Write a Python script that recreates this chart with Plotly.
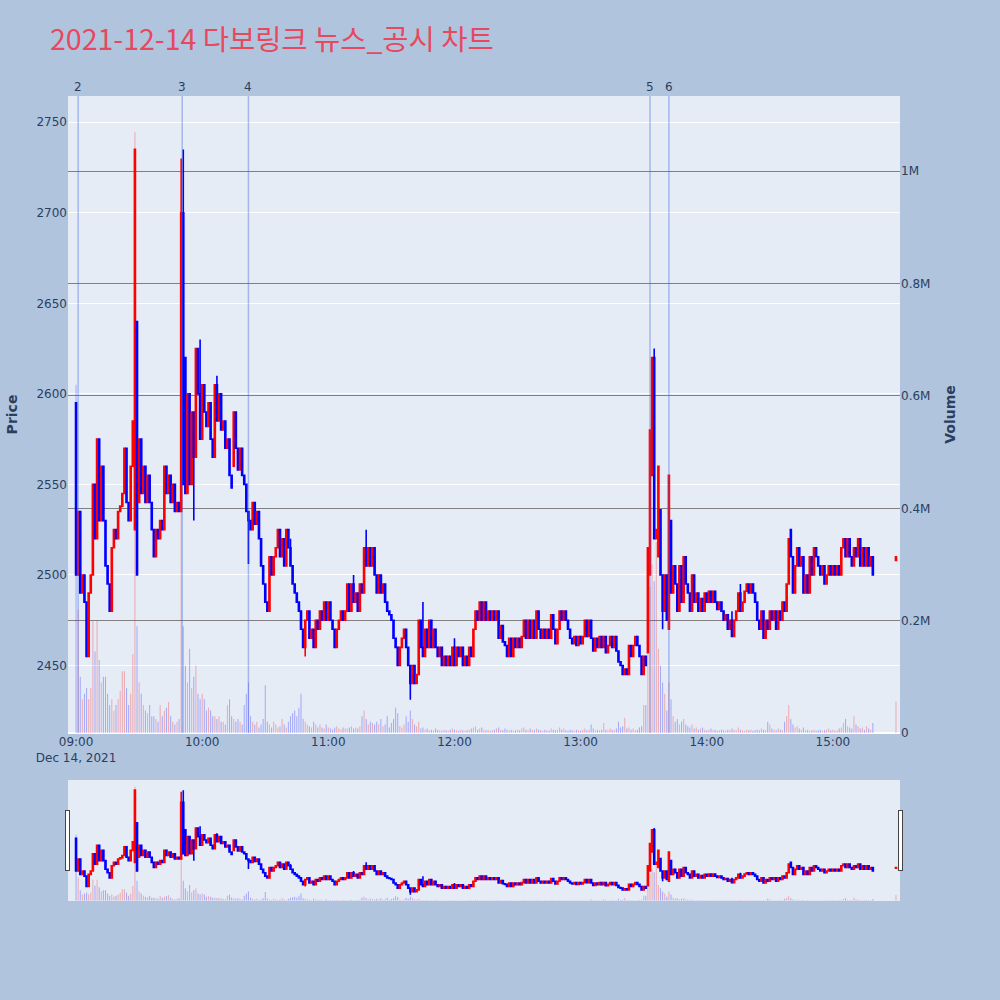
import pandas as pd
import plotly.graph_objects as go

# 1분봉 종가 (09:00 ~ 15:19, 마지막은 15:30 종가)
closes = [
    2500, 2535, 2490, 2500, 2485, 2455, 2490, 2500, 2550, 2520,
    2575, 2530, 2560, 2530, 2505, 2495, 2480, 2515, 2525, 2520,
    2535, 2538, 2545, 2570, 2540, 2530, 2560, 2585, 2735, 2500,
    2575, 2545, 2560, 2540, 2555, 2540, 2525, 2510, 2525, 2520,
    2530, 2525, 2560, 2545, 2555, 2540, 2550, 2535, 2540, 2535,
    2700, 2550, 2545, 2600, 2550, 2590, 2565, 2625, 2600, 2575,
    2605, 2590, 2582, 2595, 2575, 2565, 2605, 2585, 2600, 2580,
    2585, 2570, 2575, 2555, 2548, 2590, 2570, 2558, 2570, 2555,
    2550, 2535, 2530, 2525, 2540, 2528, 2535, 2520, 2505, 2495,
    2485, 2480, 2510, 2500, 2510, 2515, 2525, 2510, 2520, 2505,
    2525, 2515, 2505, 2495, 2490, 2485, 2480, 2470, 2460, 2475,
    2480, 2465, 2470, 2460, 2475, 2470, 2480, 2475, 2485, 2475,
    2485, 2475, 2470, 2460, 2470, 2475, 2480, 2475, 2480, 2495,
    2480, 2495, 2485, 2490, 2480, 2495, 2490, 2515, 2505, 2515,
    2505, 2515, 2500, 2490, 2500, 2490, 2495, 2485, 2480, 2478,
    2475, 2465, 2460, 2450, 2460, 2465, 2470, 2460, 2450, 2440,
    2450, 2440, 2445, 2475, 2460, 2455, 2470, 2460, 2475, 2460,
    2470, 2460, 2455, 2460, 2450, 2455, 2450, 2455, 2450, 2460,
    2450, 2460, 2455, 2460, 2450, 2455, 2450, 2460, 2455, 2470,
    2480, 2475, 2485, 2475, 2485, 2475, 2480, 2475, 2480, 2475,
    2480, 2465, 2472, 2463, 2461, 2455, 2465, 2455, 2465, 2460,
    2465, 2460, 2466, 2475, 2465, 2475, 2465, 2475, 2465, 2480,
    2470, 2465, 2470, 2465, 2470, 2465, 2478, 2470, 2462, 2470,
    2480, 2475, 2480, 2475, 2470, 2465, 2462, 2466, 2461, 2466,
    2462, 2466, 2475, 2466, 2475, 2465, 2458, 2465, 2460, 2466,
    2460, 2466, 2457, 2461, 2466, 2460, 2466, 2458, 2452, 2450,
    2445, 2448, 2445, 2461, 2455, 2461, 2466, 2461, 2455, 2445,
    2455, 2450, 2515, 2580, 2620, 2520, 2525, 2560, 2500, 2480,
    2500, 2475, 2555, 2490, 2505, 2495, 2480, 2505, 2485, 2510,
    2495, 2490, 2480, 2500, 2485, 2490, 2480, 2487, 2480, 2490,
    2485, 2491, 2485, 2491, 2485, 2481, 2485, 2480, 2475, 2478,
    2470, 2475, 2466, 2475, 2480, 2490, 2480, 2485, 2491, 2495,
    2490, 2495, 2490, 2485, 2475, 2470, 2480, 2465, 2475, 2470,
    2480, 2475, 2480, 2470, 2480, 2475, 2485, 2480, 2495, 2520,
    2510, 2490, 2505, 2515, 2505, 2510, 2490, 2500, 2490, 2510,
    2500, 2515, 2510, 2505, 2500, 2505, 2495, 2500, 2505, 2500,
    2505, 2500, 2505, 2500, 2515, 2520, 2510, 2520, 2510, 2505,
    2515, 2510, 2520, 2505, 2515, 2505, 2515, 2505, 2510, 2500,
    2510,
]

first_open = 2595
# 갭이 있는 봉의 시가
open_gaps = {28: 2525, 29: 2640, 30: 2540, 50: 2535, 51: 2700, 52: 2620,
             75: 2560, 272: 2457, 273: 2500, 274: 2555, 275: 2620,
             277: 2510, 278: 2536, 282: 2470, 283: 2530, 340: 2525, 380: 2508}
# 꼬리
high_wicks = {50: 2730, 51: 2735, 59: 2630, 67: 2610, 102: 2520, 132: 2500,
              138: 2525, 165: 2485, 180: 2465, 275: 2625, 312: 2480, 316: 2495}
low_wicks = {56: 2530, 82: 2506, 109: 2455, 159: 2431, 279: 2470}

# 거래량 (천주)
volumes_k = [
    620, 220, 100, 60, 70, 80, 60, 80, 200, 145,
    200, 130, 90, 100, 100, 70, 50, 60, 40, 50,
    60, 75, 110, 110, 80, 50, 70, 140, 1070, 190,
    90, 70, 50, 40, 35, 50, 30, 30, 25, 20,
    50, 30, 40, 45, 55, 30, 20, 15, 20, 25,
    410, 190, 120, 90, 150, 80, 100, 120, 70, 60,
    70, 60, 40, 45, 40, 30, 30, 25, 30, 20,
    20, 15, 50, 60, 30, 25, 20, 25, 20, 15,
    50, 70, 90, 30, 20, 15, 20, 10, 15, 25,
    85, 20, 15, 10, 20, 15, 10, 12, 25, 15,
    10, 20, 30, 35, 40, 30, 45, 70, 25, 20,
    15, 12, 10, 20, 15, 10, 15, 10, 8, 15,
    10, 8, 6, 10, 12, 8, 6, 10, 8, 8,
    10, 12, 8, 10, 8, 12, 30, 40, 25, 15,
    20, 18, 15, 20, 15, 25, 12, 15, 30, 10,
    18, 25, 45, 35, 12, 10, 15, 30, 20, 40,
    25, 15, 12, 20, 8, 10, 6, 8, 5, 6,
    5, 8, 6, 5, 4, 6, 5, 4, 6, 8,
    6, 5, 4, 6, 5, 4, 5, 6, 8, 10,
    12, 6, 8, 10, 6, 5, 6, 4, 5, 6,
    8, 10, 6, 5, 8, 6, 5, 6, 4, 5,
    6, 5, 8, 10, 6, 5, 8, 6, 5, 8,
    6, 5, 4, 6, 5, 4, 8, 6, 5, 6,
    10, 6, 8, 5, 4, 6, 5, 4, 6, 5,
    4, 6, 8, 5, 6, 15, 8, 5, 6, 5,
    6, 18, 6, 5, 8, 6, 5, 8, 20, 10,
    12, 27, 8, 10, 6, 8, 5, 6, 10, 12,
    50, 50, 140, 260, 300, 270, 340, 150, 120, 90,
    70, 40, 90, 60, 30, 20, 25, 15, 20, 25,
    15, 12, 10, 15, 8, 10, 6, 8, 10, 6,
    5, 6, 8, 5, 6, 4, 5, 6, 5, 4,
    6, 5, 8, 6, 5, 10, 6, 5, 4, 6,
    5, 6, 4, 5, 6, 5, 8, 6, 5, 20,
    15, 8, 6, 5, 8, 6, 5, 20, 30, 50,
    25, 15, 10, 12, 8, 6, 10, 5, 6, 4,
    5, 6, 4, 5, 6, 4, 5, 6, 8, 5,
    6, 4, 5, 8, 10, 18, 25, 12, 10, 8,
    30, 15, 12, 8, 10, 6, 12, 8, 6, 18,
    56,
]

# 뉴스/공시 시각
news_labels = ["2", "3", "4", "5", "6"]
news_times = ["2021-12-14 09:01", "2021-12-14 09:50:30", "2021-12-14 10:22",
              "2021-12-14 13:33", "2021-12-14 13:42"]

times = list(pd.date_range("2021-12-14 09:00", periods=380, freq="min"))
times.append(pd.Timestamp("2021-12-14 15:30"))

opens = [first_open] + closes[:-1]
for i, v in open_gaps.items():
    opens[i] = v
highs = [max(o, c) for o, c in zip(opens, closes)]
lows = [min(o, c) for o, c in zip(opens, closes)]
for i, v in high_wicks.items():
    highs[i] = v
for i, v in low_wicks.items():
    lows[i] = v
volumes = [v * 1000 for v in volumes_k]
vol_colors = ["rgba(255,0,0,0.28)" if c >= o else "rgba(0,0,255,0.28)"
              for o, c in zip(opens, closes)]

fig = go.Figure()
fig.add_trace(go.Candlestick(
    x=times, open=opens, high=highs, low=lows, close=closes,
    increasing=dict(line=dict(color="red", width=1.6), fillcolor="red"),
    decreasing=dict(line=dict(color="blue", width=1.6), fillcolor="blue"),
    name="가격", yaxis="y"))
fig.add_trace(go.Bar(
    x=times, y=volumes, marker=dict(color=vol_colors, line=dict(width=0)),
    width=30000, name="거래량", yaxis="y2"))

for lab, t in zip(news_labels, news_times):
    fig.add_shape(type="line", xref="x", yref="paper", x0=t, x1=t, y0=0, y1=1,
                  line=dict(color="rgba(65,105,225,0.4)", width=1.5))
    fig.add_annotation(x=t, y=1, xref="x", yref="paper", text=lab,
                       showarrow=False, yanchor="bottom",
                       font=dict(size=12, color="#2a3f5f"))

fig.update_layout(
    width=1000, height=1000,
    paper_bgcolor="lightsteelblue",
    plot_bgcolor="#e5ecf6",
    title=dict(text="2021-12-14 다보링크 뉴스_공시 차트", x=0.05, xanchor="left",
               y=0.96, yanchor="middle",
               font=dict(family="Noto Sans CJK KR", size=28.5, color="#e8485e")),
    font=dict(family="DejaVu Sans", size=12, color="#2a3f5f"),
    margin=dict(l=68, r=100, t=96, b=100),
    showlegend=False,
    xaxis=dict(type="date", showgrid=False,
               range=["2021-12-14 08:56:10", "2021-12-14 15:31:55"],
               rangeslider=dict(visible=True, thickness=0.15)),
    yaxis=dict(title=dict(text="<b>Price</b>", font=dict(size=14)),
               range=[2412.7, 2764.5], gridcolor="white"),
    yaxis2=dict(title=dict(text="<b>Volume</b>", font=dict(size=14)),
                overlaying="y", side="right", range=[0, 1134000],
                showgrid=True, gridcolor="grey"),
)

fig.write_html("out.html", config={"displayModeBar": False},
               post_script="document.body.style.margin='0';")
